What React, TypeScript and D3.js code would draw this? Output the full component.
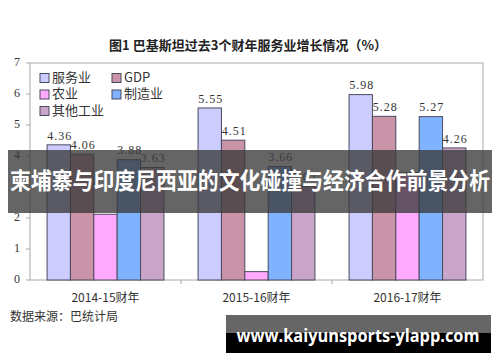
import React from "react";
import * as d3 from "d3";

const categories = ["2014-15财年", "2015-16财年", "2016-17财年"];
const seriesNames = ["服务业", "GDP", "农业", "制造业", "其他工业"];
const services = [4.36, 5.55, 5.98];
const gdp = [4.06, 4.51, 5.28];
const agriculture = [2.12, 0.27, 3.46];
const manufacturing = [3.88, 3.66, 5.27];
const otherIndustry = [3.63, 3.02, 4.26];
const labelledSeries = [true, true, false, true, true];
const yTicks = [0, 1, 2, 3, 4, 5, 6, 7];
const seriesColors = ["#ccccff", "#c994a8", "#ffaaff", "#7fb2ff", "#c9a6c9"];
const title = "图1 巴基斯坦过去3个财年服务业增长情况（%）";
const source = "数据来源：巴统计局";
const bannerText = "柬埔寨与印度尼西亚的文化碰撞与经济合作前景分析";
const watermark = "www.kaiyunsports-ylapp.com";

const seriesValues = [services, gdp, agriculture, manufacturing, otherIndustry];

const W = 500;
const H = 362;
const plot = { left: 30, right: 483, top: 63, bottom: 280 };
const serif = "'Liberation Serif', 'DejaVu Serif', 'Noto Sans CJK SC', serif";
const cjk = "'Noto Sans CJK SC', 'Liberation Serif', serif";

export default function App() {
  const x0 = d3.scaleBand<string>().domain(categories).range([plot.left, plot.right]).padding(0);
  const x1 = d3
    .scaleBand<string>()
    .domain(seriesNames)
    .range([0, x0.bandwidth()])
    .paddingInner(0)
    .paddingOuter(0.73);
  const y = d3.scaleLinear().domain([0, 7]).range([plot.bottom, plot.top]);

  const legendItems = seriesNames.map((name, i) => ({
    name,
    color: seriesColors[i],
    col: i % 2,
    row: Math.floor(i / 2),
  }));

  return (
    <svg width={W} height={H} style={{ position: "absolute", left: 0, top: 0, background: "#fff" }}>
      <rect x={0} y={0} width={W} height={H} fill="#fff" />
      <text
        x={248}
        y={46}
        textAnchor="middle"
        dominantBaseline="middle"
        fontFamily={cjk}
        fontWeight="bold"
        fontSize={13}
        fill="#222"
      >
        {title}
      </text>
      <rect
        x={plot.left}
        y={plot.top}
        width={plot.right - plot.left}
        height={plot.bottom - plot.top}
        fill="none"
        stroke="#a8a8a8"
        strokeWidth={1}
      />
      {yTicks.map((t) => (
        <g key={t}>
          <line x1={plot.left - 4} x2={plot.left} y1={y(t)} y2={y(t)} stroke="#a8a8a8" />
          <text
            x={17}
            y={y(t)}
            textAnchor="middle"
            dominantBaseline="middle"
            fontFamily={serif}
            fontSize={12}
            fill="#333"
          >
            {t}
          </text>
        </g>
      ))}
      {categories.slice(1).map((c) => (
        <line
          key={c}
          x1={x0(c)!}
          x2={x0(c)!}
          y1={plot.bottom}
          y2={plot.bottom + 4}
          stroke="#a8a8a8"
        />
      ))}
      {categories.map((c, ci) => (
        <g key={c}>
          {seriesNames.map((s, si) => {
            const v = seriesValues[si][ci];
            const bx = x0(c)! + x1(s)!;
            const by = y(v);
            return (
              <g key={s}>
                <rect
                  x={bx}
                  y={by}
                  width={x1.bandwidth()}
                  height={plot.bottom - by}
                  fill={seriesColors[si]}
                  stroke="#4a4a5e"
                  strokeWidth={1}
                />
                {labelledSeries[si] && (
                  <text
                    x={bx + x1.bandwidth() / 2 + 1}
                    y={by - 8}
                    textAnchor="middle"
                    dominantBaseline="middle"
                    fontFamily={serif}
                    fontSize={12}
                    letterSpacing={1}
                    fill="#333"
                  >
                    {v.toFixed(2)}
                  </text>
                )}
              </g>
            );
          })}
          <text
            x={x0(c)! + x0.bandwidth() / 2}
            y={299}
            textAnchor="middle"
            dominantBaseline="middle"
            fontFamily={cjk}
            fontSize={12}
            fill="#333"
          >
            {c}
          </text>
        </g>
      ))}
      {legendItems.map((it) => (
        <g key={it.name} transform={`translate(${40 + it.col * 72}, ${78 + it.row * 16.5})`}>
          <rect x={0} y={-4.5} width={9} height={9} fill={it.color} stroke="#4a4a5e" />
          <text
            x={12}
            y={0}
            dominantBaseline="middle"
            fontFamily={cjk}
            fontSize={13}
            fill="#333"
          >
            {it.name}
          </text>
        </g>
      ))}
      <text x={10} y={318} dominantBaseline="middle" fontFamily={cjk} fontSize={12} fill="#333">
        {source}
      </text>
      <rect x={8} y={150} width={484} height={63} fill="#3a3a3a" fillOpacity={0.78} />
      <text
        x={250}
        y={183}
        textAnchor="middle"
        dominantBaseline="middle"
        fontFamily="'Noto Sans CJK SC', sans-serif"
        fontWeight="bold"
        fontSize={23}
        fill="#fff"
        textLength={480}
        lengthAdjust="spacingAndGlyphs"
      >
        {bannerText}
      </text>
      <rect x={226} y={315} width={265} height={38} fill="#000" />
      <rect x={226} y={315} width={265} height={18} fill="#666" />
      <text
        x={358}
        y={337}
        textAnchor="middle"
        dominantBaseline="middle"
        fontFamily="'Open Sans', 'DejaVu Sans', sans-serif"
        fontWeight="bold"
        fontSize={17}
        fill="#fff"
        textLength={243}
        lengthAdjust="spacingAndGlyphs"
      >
        {watermark}
      </text>
    </svg>
  );
}
